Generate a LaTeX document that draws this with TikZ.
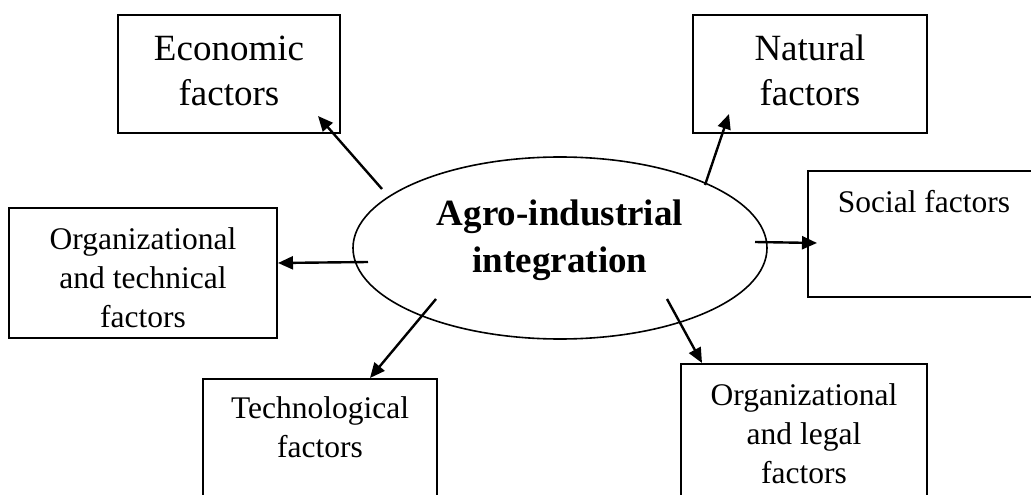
\documentclass[tikz,border=0pt]{standalone}
\usepackage{fontspec}
\setmainfont{Liberation Serif}
\usetikzlibrary{arrows.meta,calc,shapes.geometric}
\begin{document}
\begin{tikzpicture}[x=1pt,y=-1pt,
  box/.style={draw, line width=2pt, inner sep=0pt},
  bigtext/.style={font=\fontsize{37}{46}\selectfont, align=center, anchor=base, inner sep=0pt},
  smalltext/.style={font=\fontsize{31.5}{39}\selectfont, align=center, anchor=base, inner sep=0pt},
  arr/.style={line width=2.4pt, -{Triangle[length=15pt,width=13pt]}}]
\useasboundingbox (0,0) rectangle (1031,495);

% central ellipse
\node[draw, ellipse, line width=1.6pt, inner sep=0pt,
      minimum width=414pt, minimum height=182pt] (agi) at (560,248) {};
\node[font=\fontsize{37}{47}\selectfont\bfseries, align=center, anchor=base, inner sep=0pt]
  (agit) at (560,272) {Agro-industrial\\integration};

% factor boxes
\node[box, minimum width=222pt, minimum height=118pt] (eco) at (229,74) {};
\node[box, minimum width=234pt, minimum height=118pt] (nat) at (810,74) {};
\node[box, minimum width=232pt, minimum height=126pt] (soc) at (924,234) {};
\node[box, minimum width=268pt, minimum height=130pt] (ot) at (143,273) {};
\node[box, minimum width=234pt, minimum height=141pt] (tech) at (320,449.5) {};
\node[box, minimum width=246pt, minimum height=156pt] (ol) at (804,442) {};

% box labels (anchored at the baseline of the last line)
\node[bigtext] (ecot) at (229,106) {Economic\\factors};
\node[bigtext] (natt) at (810,106) {Natural\\factors};
\node[smalltext] (soct) at (924,212) {Social factors};
\node[smalltext] (ott) at (143,327) {Organizational\\and technical\\factors};
\node[smalltext] (techt) at (320,457) {Technological\\factors};
\node[smalltext] (olt) at (804,483) {Organizational\\and legal\\factors};

% arrow tails around the ellipse
\coordinate (t1) at ($(agi.center)+(-178,-59)$);
\coordinate (t2) at ($(agi.center)+(145,-63)$);
\coordinate (t3) at ($(agi.center)+(195,-6)$);
\coordinate (t4) at ($(agi.center)+(-192,14)$);
\coordinate (t5) at ($(agi.center)+(-124,51)$);
\coordinate (t6) at ($(agi.center)+(107,51)$);

% arrows to the factor boxes
\draw[arr] (t1) -- ([xshift=-23pt,yshift=18pt]eco.south east);
\draw[arr] (t2) -- ([xshift=37pt,yshift=20pt]nat.south west);
\draw[arr] (t3) -- ([xshift=10pt,yshift=-9pt]soc.west);
\draw[arr] (t4) -- ([yshift=10pt]ot.east);
\draw[arr] (t5) -- ([xshift=50pt]tech.north);
\draw[arr] (t6) -- ([xshift=22pt]ol.north west);
\end{tikzpicture}
\end{document}
